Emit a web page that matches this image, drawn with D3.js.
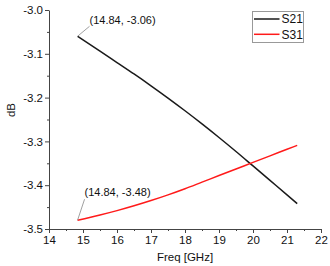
<!DOCTYPE html>
<html>
<head>
<meta charset="utf-8">
<script src="https://cdn.jsdelivr.net/npm/d3@7"></script>
<style>
  html, body { margin: 0; padding: 0; background: #fff; overflow: hidden; }
  svg { display: block; font-family: "Liberation Sans", Arial, sans-serif; }
</style>
</head>
<body>
<div id="chart"></div>
<script>
// data
const freq = [14.84, 15.5, 16, 16.5, 17, 17.5, 18, 18.5, 19, 19.5, 20, 20.5, 21, 21.3];
const s21 = [-3.06, -3.094, -3.12, -3.146, -3.173, -3.201, -3.23, -3.26, -3.291, -3.323, -3.356, -3.389, -3.422, -3.442];
const s31 = [-3.48, -3.468, -3.458, -3.447, -3.435, -3.422, -3.408, -3.393, -3.378, -3.363, -3.348, -3.333, -3.318, -3.309];
const seriesNames = ['S21', 'S31'];
const xTicks = [14, 15, 16, 17, 18, 19, 20, 21, 22];
const yTicks = [-3.0, -3.1, -3.2, -3.3, -3.4, -3.5];
const xMinor = [14.5, 15.5, 16.5, 17.5, 18.5, 19.5, 20.5, 21.5];
const yMinor = [-3.05, -3.15, -3.25, -3.35, -3.45];
const annotations = [
  { x: 14.84, y: -3.06, label: '(14.84, -3.06)' },
  { x: 14.84, y: -3.48, label: '(14.84, -3.48)' }
];

const width = 330, height = 266;
const margin = { top: 10, right: 9, bottom: 37, left: 49 };
const innerWidth = width - margin.left - margin.right;
const innerHeight = height - margin.top - margin.bottom;

const colors = { S21: '#1a1a1a', S31: '#ff1a1a' };

const svg = d3.select('#chart').append('svg')
  .attr('width', width)
  .attr('height', height);

const g = svg.append('g')
  .attr('transform', `translate(${margin.left},${margin.top})`);

const xScale = d3.scaleLinear().domain([14, 22]).range([0, innerWidth]);
const yScale = d3.scaleLinear().domain([-3.5, -3.0]).range([innerHeight, 0]);

// minor ticks (no labels)
g.append('g')
  .attr('transform', `translate(0,${innerHeight})`)
  .call(d3.axisBottom(xScale).tickValues(xMinor).tickSize(2).tickFormat(''))
  .call(a => a.select('.domain').remove())
  .call(a => a.selectAll('text').remove())
  .call(a => a.selectAll('line').attr('stroke', '#444'));

g.append('g')
  .call(d3.axisLeft(yScale).tickValues(yMinor).tickSize(2).tickFormat(''))
  .call(a => a.select('.domain').remove())
  .call(a => a.selectAll('text').remove())
  .call(a => a.selectAll('line').attr('stroke', '#444'));

// major axes
const xAxis = g.append('g')
  .attr('class', 'x-axis')
  .attr('transform', `translate(0,${innerHeight})`)
  .call(d3.axisBottom(xScale).tickValues(xTicks).tickSize(4).tickSizeOuter(0).tickPadding(3).tickFormat(d => d));

const yAxis = g.append('g')
  .attr('class', 'y-axis')
  .call(d3.axisLeft(yScale).tickValues(yTicks).tickSize(4).tickSizeOuter(0).tickPadding(2).tickFormat(d => d.toFixed(1)));

[xAxis, yAxis].forEach(a => {
  a.select('.domain').attr('stroke', '#444');
  a.selectAll('line').attr('stroke', '#444');
  a.selectAll('text').attr('fill', '#111').style('font-size', '11.5px');
});

// axis titles
g.append('text')
  .attr('x', innerWidth / 2)
  .attr('y', innerHeight + 32)
  .attr('text-anchor', 'middle')
  .style('font-size', '11.5px')
  .attr('fill', '#111')
  .text('Freq [GHz]');

g.append('text')
  .attr('transform', `translate(${-34},${100}) rotate(-90)`)
  .attr('text-anchor', 'middle')
  .style('font-size', '11.5px')
  .attr('fill', '#111')
  .text('dB');

// lines
const line = d3.line()
  .x(d => xScale(d[0]))
  .y(d => yScale(d[1]))
  .curve(d3.curveMonotoneX);

const series = [
  { name: 'S21', values: freq.map((f, i) => [f, s21[i]]) },
  { name: 'S31', values: freq.map((f, i) => [f, s31[i]]) }
];

g.selectAll('.series')
  .data(series)
  .enter()
  .append('path')
  .attr('class', 'series')
  .attr('fill', 'none')
  .attr('stroke', d => colors[d.name])
  .attr('stroke-width', 1.5)
  .attr('d', d => line(d.values));

// annotations with leader lines
const offsets = [{ dx: 12, dy: -10 }, { dx: 7, dy: -21 }];
annotations.forEach((a, i) => {
  const px = xScale(a.x), py = yScale(a.y);
  const o = offsets[i];
  g.append('line')
    .attr('x1', px).attr('y1', py)
    .attr('x2', px + o.dx).attr('y2', py + o.dy)
    .attr('stroke', '#888')
    .attr('stroke-width', 0.8);
  g.append('text')
    .attr('x', px + o.dx)
    .attr('y', py + o.dy - (i === 0 ? 2 : 3))
    .style('font-size', '11px')
    .attr('fill', '#111')
    .text(a.label);
});

// legend
const legend = svg.append('g').attr('transform', 'translate(252.5,11.5)');
legend.append('rect')
  .attr('width', 51)
  .attr('height', 31)
  .attr('fill', '#fff')
  .attr('stroke', '#999')
  .attr('stroke-width', 1);

seriesNames.forEach((name, i) => {
  const y = 7.5 + i * 15.3;
  legend.append('line')
    .attr('x1', 1.5).attr('x2', 27)
    .attr('y1', y).attr('y2', y)
    .attr('stroke', colors[name])
    .attr('stroke-width', 1.5);
  legend.append('text')
    .attr('x', 29)
    .attr('y', y + 4.3)
    .style('font-size', '12px')
    .attr('fill', '#111')
    .text(name);
});
</script>
</body>
</html>
